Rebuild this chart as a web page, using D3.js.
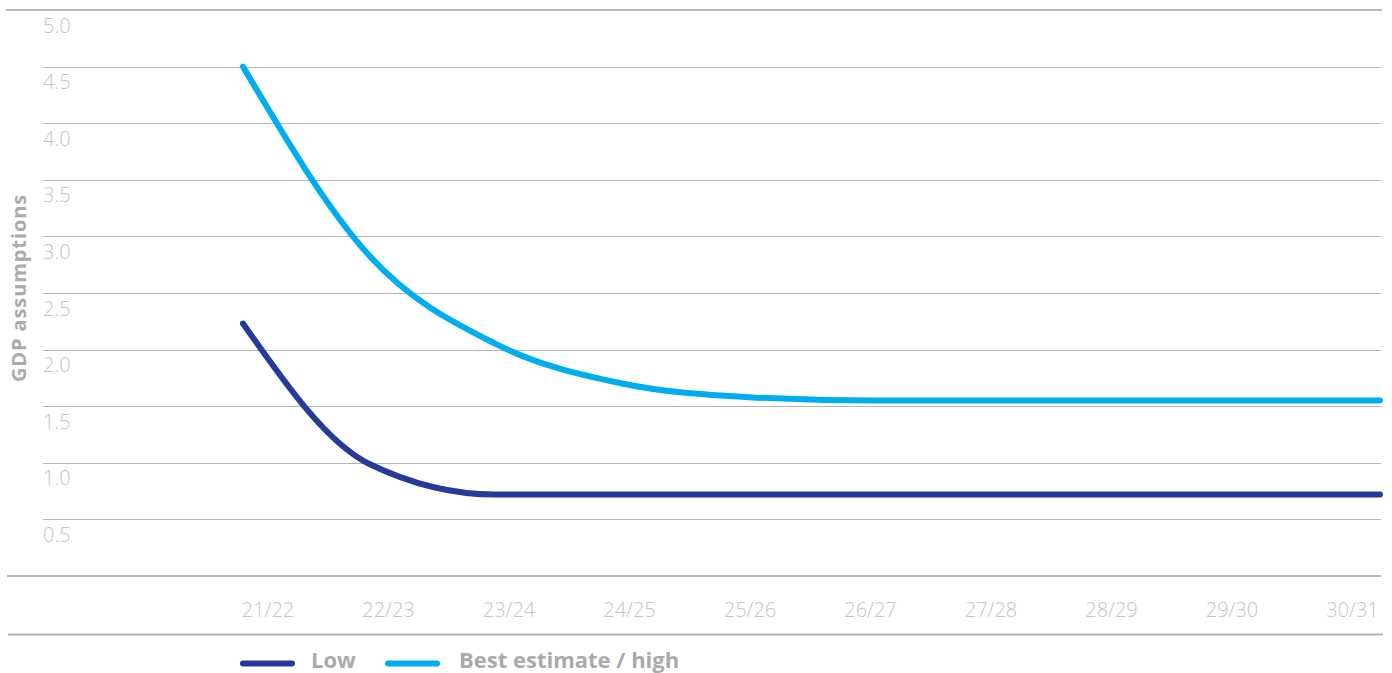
<!DOCTYPE html>
<html>
<head>
<meta charset="utf-8">
<script src="https://cdn.jsdelivr.net/npm/d3@7"></script>
<style>
  html, body { margin: 0; padding: 0; background: #fff; }
  svg { display: block; font-family: "Open Sans", sans-serif; }
</style>
</head>
<body>
<svg id="chart" width="1392" height="673"></svg>
<script>
const categories = ["21/22","22/23","23/24","24/25","25/26","26/27","27/28","28/29","29/30","30/31"];
const lowValues = [2.23, 0.99, 0.72, 0.72, 0.72, 0.72, 0.72, 0.72, 0.72, 0.72];
const bestValues = [4.5, 2.83, 2.05, 1.70, 1.58, 1.55, 1.55, 1.55, 1.55, 1.55];
const yTicks = [0.5, 1.0, 1.5, 2.0, 2.5, 3.0, 3.5, 4.0, 4.5, 5.0];
const seriesNames = ["Low", "Best estimate / high"];
const seriesColors = ["#263a99", "#00aeef"];

const svg = d3.select("#chart");

const y = d3.scaleLinear().domain([0, 5]).range([576, 10]);
const xLine = d3.scalePoint().domain(categories).range([243, 1380]);
const xLabel = d3.scalePoint().domain(categories).range([268, 1352.5]);

// gridlines
const grid = svg.append("g");
grid.selectAll("line.g").data(yTicks.filter(d => d < 5)).enter().append("line")
  .attr("x1", 43).attr("x2", 1381)
  .attr("y1", d => Math.round(y(d)) + 0.5).attr("y2", d => Math.round(y(d)) + 0.5)
  .attr("stroke", "#b4b4b4").attr("stroke-width", 1.2);
// top line
grid.append("line").attr("x1", 6).attr("x2", 1382)
  .attr("y1", y(5)).attr("y2", y(5))
  .attr("stroke", "#b8b8b8").attr("stroke-width", 2);
// baseline
grid.append("line").attr("x1", 7).attr("x2", 1381)
  .attr("y1", y(0)).attr("y2", y(0))
  .attr("stroke", "#b4b4b4").attr("stroke-width", 2);
// line under x labels
grid.append("line").attr("x1", 8).attr("x2", 1383)
  .attr("y1", 634.5).attr("y2", 634.5)
  .attr("stroke", "#b4b4b4").attr("stroke-width", 2);

// y tick labels
svg.append("g").selectAll("text").data(yTicks).enter().append("text")
  .attr("x", 43).attr("y", d => y(d) + 22.5)
  .attr("font-size", 20).attr("font-weight", 300).attr("fill", "#c4c4c4")
  .text(d => d.toFixed(1));

// x labels
svg.append("g").selectAll("text").data(categories).enter().append("text")
  .attr("x", d => xLabel(d)).attr("y", 617)
  .attr("text-anchor", "middle")
  .attr("font-size", 20).attr("font-weight", 300).attr("fill", "#c4c4c4")
  .text(d => d);

// y title
svg.append("text")
  .attr("transform", "translate(26,288) rotate(-90)")
  .attr("text-anchor", "middle")
  .attr("font-size", 20).attr("font-weight", 700).attr("fill", "#aaaaaa")
  .attr("letter-spacing", 0.9)
  .text("GDP assumptions");

// lines
const line = d3.line()
  .x((d, i) => xLine(categories[i]))
  .y(d => y(d))
  .curve(d3.curveMonotoneX);

[lowValues, bestValues].forEach((vals, i) => {
  svg.append("path").datum(vals)
    .attr("d", line)
    .attr("fill", "none")
    .attr("stroke", seriesColors[i])
    .attr("stroke-width", 6)
    .attr("stroke-linecap", "round")
    .attr("stroke-linejoin", "round");
});

// legend
const legendX = [243, 388];
const legendTextX = [311, 459];
seriesNames.forEach((name, i) => {
  svg.append("line")
    .attr("x1", legendX[i]).attr("x2", legendX[i] + 49)
    .attr("y1", 663.5).attr("y2", 663.5)
    .attr("stroke", seriesColors[i]).attr("stroke-width", 6)
    .attr("stroke-linecap", "round");
  svg.append("text")
    .attr("x", legendTextX[i]).attr("y", 667.5)
    .attr("font-size", 22).attr("font-weight", 700).attr("fill", "#aaaaaa")
    .text(name);
});
</script>
</body>
</html>
